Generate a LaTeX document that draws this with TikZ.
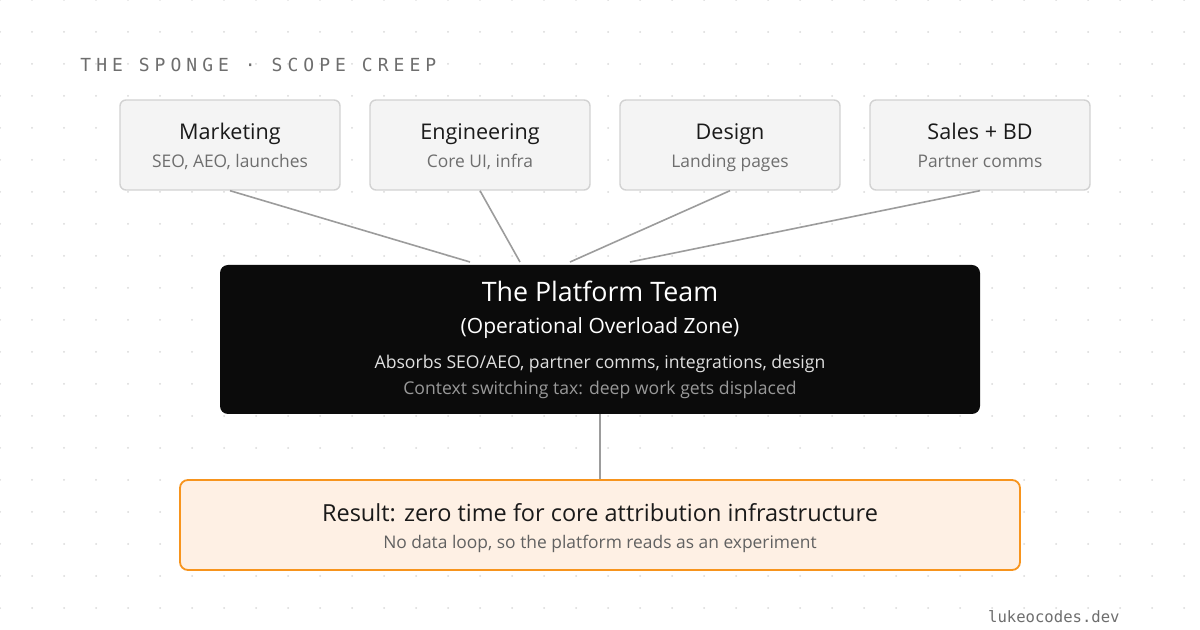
\documentclass[tikz,border=0pt]{standalone}
\usepackage{fontspec}
\setmainfont{Open Sans}
\newfontfamily\labelmono[LetterSpace=28]{DejaVu Sans Mono}
\newfontfamily\footmono{DejaVu Sans Mono}
\usetikzlibrary{positioning, calc}
\definecolor{dotgray}{HTML}{D9D9D9}
\definecolor{cardfill}{HTML}{F4F4F4}
\definecolor{cardline}{HTML}{D2D2D2}
\definecolor{linkgray}{HTML}{9C9C9C}
\definecolor{platformblack}{HTML}{0B0B0B}
\definecolor{resultfill}{HTML}{FEF0E4}
\definecolor{resultorange}{HTML}{F7941D}
\definecolor{inkdark}{HTML}{1A1A1A}
\definecolor{inkmid}{HTML}{6E6E6E}

\begin{document}
\begin{tikzpicture}[x=0.5pt, y=-0.5pt,
    card/.style={draw=cardline, fill=cardfill, line width=0.7pt, rounded corners=3pt,
        minimum width=110pt, minimum height=45pt, inner sep=0pt},
    cardtitle/.style={anchor=base, font=\fontsize{10.8}{12}\selectfont, text=inkdark},
    cardsub/.style={anchor=base, font=\fontsize{8.7}{10}\selectfont, text=inkmid},
    link/.style={draw=linkgray, line width=0.8pt}]
    % Background and dot grid
    \fill[white] (0,0) rectangle (1200,630);
    \useasboundingbox (0,0) rectangle (1200,630);
    \foreach \x in {0,32,...,1184}
        \foreach \y in {0,32,...,608}
            \fill[dotgray] (\x,\y) circle (1);

    % Heading
    \node[anchor=west, inner sep=0pt, text=inkmid, font=\labelmono\fontsize{9}{11}\selectfont] (heading) at (80,65) {THE SPONGE · SCOPE CREEP};

    % ==== Requesting teams ====
    \node[card] (mkt) at (230,145) {};
    \node[cardtitle] (mkttitle) at (230,140) {Marketing};
    \node[cardsub] (mktsub) at (230,167.5) {SEO, AEO, launches};

    \node[card] (eng) at (480,145) {};
    \node[cardtitle] (engtitle) at (480,140) {Engineering};
    \node[cardsub] (engsub) at (480,167.5) {Core UI, infra};

    \node[card] (dsn) at (730,145) {};
    \node[cardtitle] (dsntitle) at (730,140) {Design};
    \node[cardsub] (dsnsub) at (730,167.5) {Landing pages};

    \node[card] (sales) at (980,145) {};
    \node[cardtitle] (salestitle) at (980,140) {Sales + BD};
    \node[cardsub] (salessub) at (980,167.5) {Partner comms};

    % ==== Platform team ====
    \node[fill=platformblack, rounded corners=4pt, minimum width=380pt, minimum height=74.5pt, inner sep=0pt] (platform) at (600,339.5) {};
    \node[anchor=base, text=white, font=\fontsize{13.4}{15}\selectfont] (ptitle) at (600,302) {The Platform Team};
    \node[anchor=base, text=white, font=\fontsize{10.5}{12}\selectfont] (psub) at (600,333.5) {(Operational Overload Zone)};
    \node[anchor=base, text=white!88!black, font=\fontsize{8.8}{10}\selectfont] (pload) at (600,368.5) {Absorbs SEO/AEO, partner comms, integrations, design};
    \node[anchor=base, text=black!40, font=\fontsize{8.8}{10}\selectfont] (ptax) at (600,395) {Context switching tax: deep work gets displaced};

    % Where the requests land
    \coordinate (inmkt) at (470,262);
    \coordinate (ineng) at (520,262);
    \coordinate (indsn) at (570,262);
    \coordinate (insales) at (630,262);
    \draw[link] (mkt.south) -- (inmkt);
    \draw[link] (eng.south) -- (ineng);
    \draw[link] (dsn.south) -- (indsn);
    \draw[link] (sales.south) -- (insales);

    % ==== Result ====
    \node[draw=resultorange, fill=resultfill, line width=0.9pt, rounded corners=4pt, minimum width=420pt, minimum height=45pt, inner sep=0pt] (result) at (600,525) {};
    \node[anchor=base, text=inkdark, font=\fontsize{11.75}{13}\selectfont] (rtitle) at (600,521.5) {Result: zero time for core attribution infrastructure};
    \node[anchor=base, text=black!62, font=\fontsize{8.7}{10}\selectfont] (rsub) at (600,549) {No data loop, so the platform reads as an experiment};
    \draw[link] (platform.south) -- (result.north);

    % Footer
    \node[anchor=east, inner sep=0pt, text=inkmid, font=\footmono\fontsize{7.8}{9}\selectfont] (site) at (1120,617) {lukeocodes.dev};
\end{tikzpicture}
\end{document}
